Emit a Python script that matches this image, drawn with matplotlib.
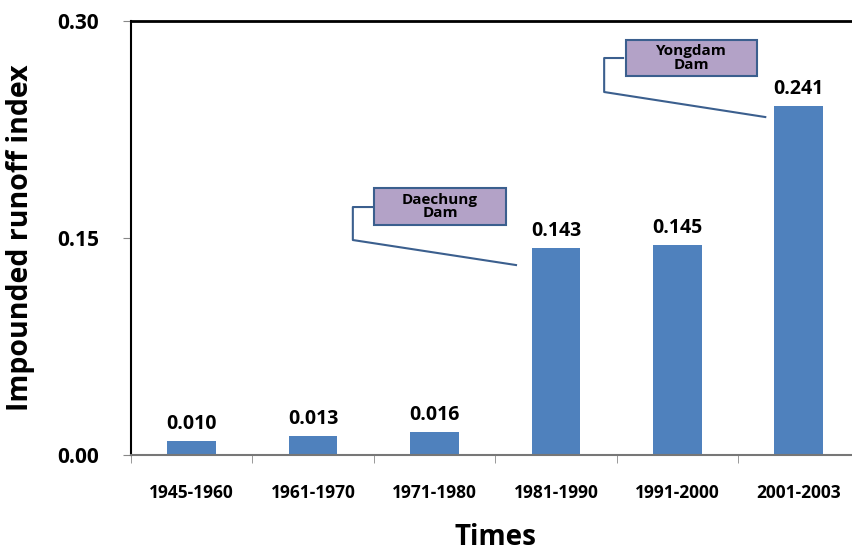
import matplotlib
matplotlib.use("Agg")
import matplotlib.pyplot as plt
import numpy as np
from matplotlib.patches import Rectangle

plt.rcParams["font.family"] = ["Open Sans", "DejaVu Sans"]

# data
periods = ["1945-1960", "1961-1970", "1971-1980", "1981-1990", "1991-2000", "2001-2003"]
runoff_index = [0.010, 0.013, 0.016, 0.143, 0.145, 0.241]
value_labels = ["0.010", "0.013", "0.016", "0.143", "0.145", "0.241"]
y_ticks = [0.00, 0.15, 0.30]

C_BAR = "#4f81bd"
C_BOX = "#b3a2c7"
C_EDGE = "#3b5f8e"

fig = plt.figure(figsize=(8.53, 5.52), dpi=100)
ax = fig.add_axes([0.1536, 0.1757, 0.854, 0.7863])

x = np.arange(len(periods))
ax.bar(x, runoff_index, width=0.4, color=C_BAR, zorder=2)
for xi, v, lab in zip(x, runoff_index, value_labels):
    ax.annotate(lab, (xi, v), xytext=(0, 5), textcoords="offset points",
                ha="center", va="bottom", fontsize=14, fontweight="bold")

ax.set_xlim(-0.5, len(periods) - 0.5)
ax.set_ylim(0, 0.30)
ax.set_yticks(y_ticks)
ax.set_yticklabels([f"{t:.2f}" for t in y_ticks], fontsize=15, fontweight="bold")
ax.tick_params(axis="y", length=6, color="#888888", pad=17)

ax.set_xticks(x)
ax.set_xticklabels(periods, fontsize=12.5, fontweight="bold")
ax.set_xticks(np.arange(-0.5, len(periods)), minor=True)
ax.tick_params(axis="x", which="major", length=0, pad=21)
ax.tick_params(axis="x", which="minor", length=6, color="#888888")

ax.set_ylabel("Impounded runoff index", fontsize=20.5, fontweight="bold", labelpad=16)
ax.set_xlabel("Times", fontsize=20, fontweight="bold", labelpad=15)

ax.spines["right"].set_visible(False)
ax.spines["left"].set_color("black")
ax.spines["left"].set_linewidth(1.5)
ax.spines["top"].set_color("black")
ax.spines["top"].set_linewidth(2)
ax.spines["bottom"].set_color("#777777")
ax.spines["bottom"].set_linewidth(1.5)


def callout(x0, x1, y0, y1, text, line_x, line_y):
    ax.add_patch(Rectangle((x0, y0), x1 - x0, y1 - y0, facecolor=C_BOX,
                           edgecolor=C_EDGE, lw=1.5, zorder=3, clip_on=False))
    ax.text((x0 + x1) / 2, (y0 + y1) / 2, text, ha="center", va="center",
            fontsize=11, fontweight="bold", zorder=4, linespacing=0.95)
    ax.plot(line_x, line_y, color=C_EDGE, lw=1.5, zorder=3, clip_on=False)


callout(1.50, 2.59, 0.159, 0.1846, "Daechung\nDam",
        [1.49, 1.327, 1.327, 2.671], [0.1714, 0.1714, 0.1486, 0.1313])
callout(3.578, 4.658, 0.262, 0.2869, "Yongdam\nDam",
        [3.553, 3.397, 3.397, 4.724], [0.2744, 0.2744, 0.2509, 0.2336])

fig.savefig("out.png", dpi=100)
